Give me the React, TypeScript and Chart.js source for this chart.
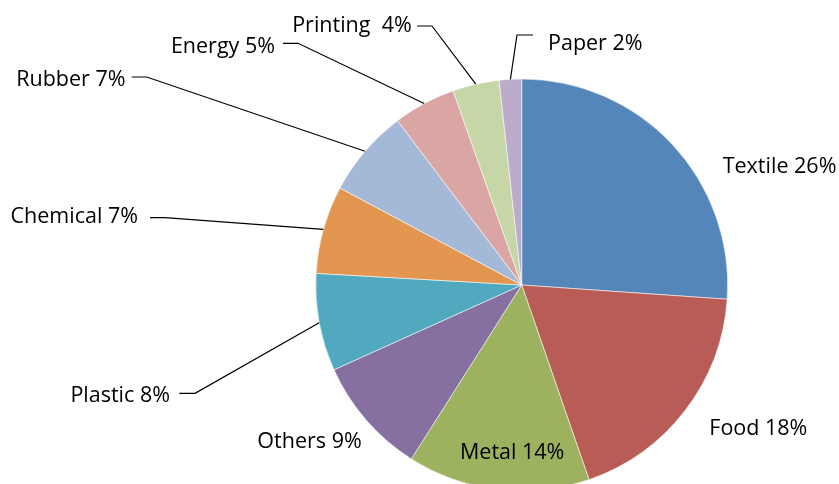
import React, { useEffect, useRef } from "react";
import { Chart, registerables } from "chart.js";

Chart.register(...registerables);

const categories = ["Textile", "Food", "Metal", "Others", "Plastic", "Chemical", "Rubber", "Energy", "Printing ", "Paper"];
const shares = [26.1, 18.6, 14.3, 9.25, 7.65, 6.9, 6.9, 4.9, 3.65, 1.75];
const percentLabels = ["26%", "18%", "14%", "9%", "8%", "7%", "7%", "5%", "4%", "2%"];
const sliceColors = [
  "#5586B9",
  "#BA5C56",
  "#9CB25F",
  "#8670A2",
  "#50A9BE",
  "#E2964F",
  "#A4B8D8",
  "#DAA6A4",
  "#C6D6A7",
  "#BBACCB",
];

// label placement (canvas px): text anchor + optional leader elbow
type LabelPos = {
  x: number;
  y: number;
  align: CanvasTextAlign;
  line?: { tailX: number; elbowX: number; y: number };
};
const labelLayout: LabelPos[] = [
  { x: 722.7, y: 173.3, align: "left" },
  { x: 709.3, y: 435, align: "left" },
  { x: 460, y: 459.3, align: "left" },
  { x: 361.7, y: 448.3, align: "right" },
  { x: 170, y: 402.3, align: "right", line: { tailX: 179.3, elbowX: 195, y: 393.3 } },
  { x: 138, y: 223.3, align: "right", line: { tailX: 150, elbowX: 165, y: 217.7 } },
  { x: 125.5, y: 86, align: "right", line: { tailX: 131.7, elbowX: 146.7, y: 77 } },
  { x: 275, y: 53, align: "right", line: { tailX: 283, elbowX: 298, y: 43.3 } },
  { x: 411.7, y: 32.3, align: "right", line: { tailX: 417, elbowX: 432, y: 26 } },
  { x: 548, y: 50, align: "left", line: { tailX: 533, elbowX: 517, y: 35 } },
];

const FONT = '21.5px "Open Sans", "DejaVu Sans", sans-serif';

const labelPlugin = {
  id: "pieLabels",
  afterDatasetsDraw(chart: any) {
    const ctx: CanvasRenderingContext2D = chart.ctx;
    const meta = chart.getDatasetMeta(0);
    ctx.save();
    ctx.strokeStyle = "#000";
    ctx.lineWidth = 1.2;
    ctx.fillStyle = "#000";
    ctx.font = FONT;
    ctx.textBaseline = "alphabetic";
    meta.data.forEach((arc: any, i: number) => {
      const p = arc.getProps(["x", "y", "startAngle", "endAngle", "outerRadius"], true);
      const mid = (p.startAngle + p.endAngle) / 2;
      const ax = p.x + Math.cos(mid) * p.outerRadius;
      const ay = p.y + Math.sin(mid) * p.outerRadius;
      const lay = labelLayout[i];
      if (lay.line) {
        ctx.beginPath();
        ctx.moveTo(lay.line.tailX, lay.line.y);
        ctx.lineTo(lay.line.elbowX, lay.line.y);
        ctx.lineTo(ax, ay);
        ctx.stroke();
      }
      ctx.textAlign = lay.align;
      ctx.fillText(categories[i] + " " + percentLabels[i], lay.x, lay.y);
    });
    ctx.restore();
  },
};

export default function App() {
  const ref = useRef<HTMLCanvasElement>(null);
  useEffect(() => {
    const canvas = ref.current!;
    const chart = new Chart(canvas, {
      type: "pie",
      data: {
        labels: categories,
        datasets: [
          {
            data: shares,
            backgroundColor: sliceColors,
            borderColor: "rgba(255,255,255,0.55)",
            borderWidth: 1,
          },
        ],
      },
      options: {
        responsive: false,
        animation: false,
        devicePixelRatio: 1,
        radius: 206,
        layout: { padding: { left: 315.7, right: 111.3, top: 79, bottom: 9 } },
        plugins: { legend: { display: false }, tooltip: { enabled: false } },
      },
      plugins: [labelPlugin],
    });
    return () => chart.destroy();
  }, []);
  return (
    <div style={{ position: "absolute", left: 0, top: 0, width: 839, height: 484, overflow: "hidden", background: "#fff" }}>
      <canvas ref={ref} width={839} height={500} style={{ display: "block" }} />
    </div>
  );
}
